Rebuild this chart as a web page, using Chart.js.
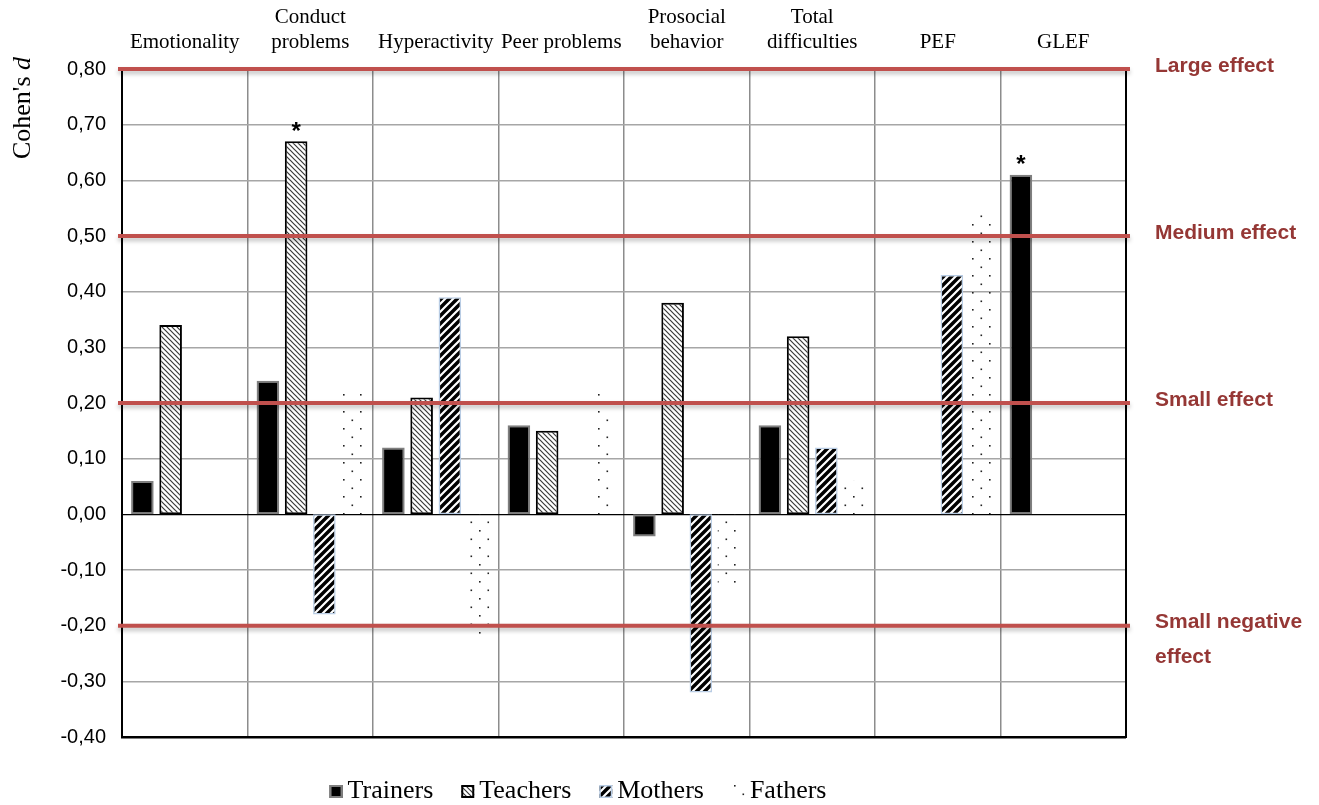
<!DOCTYPE html>
<html><head><meta charset="utf-8">
<script src="https://cdn.jsdelivr.net/npm/chart.js@4.4.1/dist/chart.umd.min.js"></script>
<style>html,body{margin:0;padding:0;background:#fff;overflow:hidden}canvas{display:block}</style>
</head><body>
<canvas id="c" width="1319" height="805"></canvas>
<script>
// ---- data ----
const categories = ['Emotionality', ['Conduct', 'problems'], 'Hyperactivity', 'Peer problems', ['Prosocial', 'behavior'], ['Total', 'difficulties'], 'PEF', 'GLEF'];
const seriesNames = ['Trainers', 'Teachers', 'Mothers', 'Fathers'];
const trainers = [0.06, 0.24, 0.12, 0.16, -0.04, 0.16, null, 0.61];
const teachers = [0.34, 0.67, 0.21, 0.15, 0.38, 0.32, null, null];
const mothers  = [null, -0.18, 0.39, null, -0.32, 0.12, 0.43, null];
const fathers  = [null, 0.22, -0.22, 0.22, -0.13, 0.06, 0.54, null];
const yMin = -0.4, yMax = 0.8, yStep = 0.1;
const effectLevels = [0.8, 0.5, 0.2, -0.2];
const effectLabels = [['Large effect'], ['Medium effect'], ['Small effect'], ['Small negative', 'effect']];
const significant = [[1, 1], [7, 0]]; // [category index, series index] marked with *
const yTitle = "Cohen's ", yTitleItalic = 'd';

// ---- patterns ----
function hatchPattern() {
  const s = 5, c = document.createElement('canvas'); c.width = s; c.height = s;
  const g = c.getContext('2d');
  g.fillStyle = '#fff'; g.fillRect(0, 0, s, s);
  g.strokeStyle = '#3a3a3a'; g.lineWidth = 1.2;
  g.beginPath();
  g.moveTo(0, 0); g.lineTo(s, s);
  g.moveTo(-1, s - 1); g.lineTo(1, s + 1);
  g.moveTo(s - 1, -1); g.lineTo(s + 1, 1);
  g.stroke();
  return g.createPattern(c, 'repeat');
}
function stripePattern() {
  const s = 8, c = document.createElement('canvas'); c.width = s; c.height = s;
  const g = c.getContext('2d');
  g.fillStyle = '#000'; g.fillRect(0, 0, s, s);
  g.strokeStyle = '#fff'; g.lineWidth = 2.2;
  g.beginPath();
  g.moveTo(0, s); g.lineTo(s, 0);
  g.moveTo(-1, 1); g.lineTo(1, -1);
  g.moveTo(s - 1, s + 1); g.lineTo(s + 1, s - 1);
  g.stroke();
  return g.createPattern(c, 'repeat');
}
function dotPattern() {
  const s = 17, c = document.createElement('canvas'); c.width = s; c.height = s;
  const g = c.getContext('2d');
  g.fillStyle = '#222';
  g.fillRect(3, 3, 1.6, 1.6);
  g.fillRect(11.5, 11.5, 1.6, 1.6);
  return g.createPattern(c, 'repeat');
}

const isVal = (v, t) => Math.abs(v - t) < 1e-9;

// ---- plugins ----
const overlayPlugin = {
  id: 'overlay',
  afterDatasetsDraw(chart) {
    const { ctx, chartArea: a, scales: { y } } = chart;
    ctx.save();
    // right border
    ctx.strokeStyle = '#000'; ctx.lineWidth = 2;
    ctx.beginPath(); ctx.moveTo(a.right, a.top); ctx.lineTo(a.right, a.bottom + 1); ctx.stroke();
    // asterisks
    ctx.fillStyle = '#000'; ctx.font = 'bold 24px "Liberation Sans"';
    ctx.textAlign = 'center'; ctx.textBaseline = 'middle';
    significant.forEach(([ci, si]) => {
      const bar = chart.getDatasetMeta(si).data[ci];
      ctx.fillText('*', bar.x, bar.y - 9);
    });
    // effect lines
    effectLevels.forEach((lv, i) => {
      const py = y.getPixelForValue(lv);
      ctx.save();
      ctx.shadowColor = 'rgba(0,0,0,0.25)'; ctx.shadowBlur = 4; ctx.shadowOffsetY = 3;
      ctx.strokeStyle = '#c0504d'; ctx.lineWidth = 4;
      ctx.beginPath(); ctx.moveTo(a.left - 4, py); ctx.lineTo(a.right + 4, py); ctx.stroke();
      ctx.restore();
      ctx.fillStyle = '#953735'; ctx.font = 'bold 21px "Liberation Sans"';
      ctx.textAlign = 'left'; ctx.textBaseline = 'middle';
      effectLabels[i].forEach((t, k) => ctx.fillText(t, a.right + 29, py - 3 + k * 35));
    });
    ctx.restore();
  },
  afterDraw(chart) {
    const ctx = chart.ctx;
    ctx.save();
    // y title
    ctx.translate(23, 108); ctx.rotate(-Math.PI / 2);
    ctx.fillStyle = '#000'; ctx.textBaseline = 'middle'; ctx.textAlign = 'left';
    const f1 = '26px "Liberation Serif"', f2 = 'italic 26px "Liberation Serif"';
    ctx.font = f1; const w1 = ctx.measureText(yTitle).width;
    ctx.font = f2; const w2 = ctx.measureText(yTitleItalic).width;
    const x0 = -(w1 + w2) / 2;
    ctx.font = f1; ctx.fillText(yTitle, x0, 0);
    ctx.font = f2; ctx.fillText(yTitleItalic, x0 + w1, 0);
    ctx.restore();
    // legend
    ctx.save();
    ctx.font = '26px "Liberation Serif"';
    const box = 13, gap = 5, itemGap = 28;
    const items = chart.data.datasets.map(ds => ({ ds, w: ctx.measureText(ds.label).width }));
    const total = items.reduce((s, it) => s + box + gap + it.w, 0) + itemGap * (items.length - 1);
    let x = 578 - total / 2; const yb = 798;
    items.forEach(it => {
      const ds = it.ds;
      ctx.fillStyle = ds.backgroundColor; ctx.fillRect(x, yb - box, box, box);
      if (ds.borderWidth) {
        ctx.strokeStyle = ds.borderColor; ctx.lineWidth = ds.borderWidth;
        ctx.strokeRect(x + ds.borderWidth / 2, yb - box + ds.borderWidth / 2, box - ds.borderWidth, box - ds.borderWidth);
      }
      ctx.fillStyle = '#000'; ctx.textBaseline = 'alphabetic'; ctx.textAlign = 'left';
      ctx.fillText(ds.label, x + box + gap, yb);
      x += box + gap + it.w + itemGap;
    });
    ctx.restore();
  }
};

const seriesData = [trainers, teachers, mothers, fathers];
const fills = ['#000', hatchPattern(), stripePattern(), dotPattern()];
const borders = ['#7f7f7f', '#000', '#b8cce4', 'rgba(0,0,0,0)'];
const bWidths = [2, 2, 1.5, 0];

new Chart(document.getElementById('c'), {
  type: 'bar',
  data: {
    labels: categories,
    datasets: seriesNames.map((n, i) => ({
      label: n, data: seriesData[i],
      backgroundColor: fills[i], borderColor: borders[i], borderWidth: bWidths[i],
      borderSkipped: false,
      categoryPercentage: 0.9, barPercentage: 0.8
    }))
  },
  options: {
    responsive: false, animation: false,
    layout: { padding: { left: 0, right: 193, top: 0, bottom: 68 } },
    plugins: { legend: { display: false }, tooltip: { enabled: false } },
    scales: {
      x: {
        position: 'top', offset: true,
        grid: { offset: true, color: '#8c8c8c', lineWidth: 1.5, drawTicks: false },
        border: { display: false },
        ticks: { font: { family: 'Liberation Serif', size: 21 }, color: '#000', padding: 14, maxRotation: 0, autoSkip: false },
        afterFit: s => { s.height = 69; }
      },
      y: {
        min: yMin, max: yMax,
        ticks: {
          stepSize: yStep, padding: 16, color: '#000',
          font: { family: 'Liberation Sans', size: 20 },
          callback: v => (Math.abs(v) < 1e-9 ? 0 : v).toFixed(2).replace('.', ',')
        },
        grid: {
          drawTicks: false,
          color: c => (isVal(c.tick.value, 0) || isVal(c.tick.value, yMin)) ? '#000' : '#a6a6a6',
          lineWidth: c => isVal(c.tick.value, yMin) ? 2.5 : (isVal(c.tick.value, 0) ? 1.2 : 1.5)
        },
        border: { color: '#000', width: 2 },
        afterFit: s => { s.width = 122; }
      }
    }
  },
  plugins: [overlayPlugin]
});
</script>
</body></html>
